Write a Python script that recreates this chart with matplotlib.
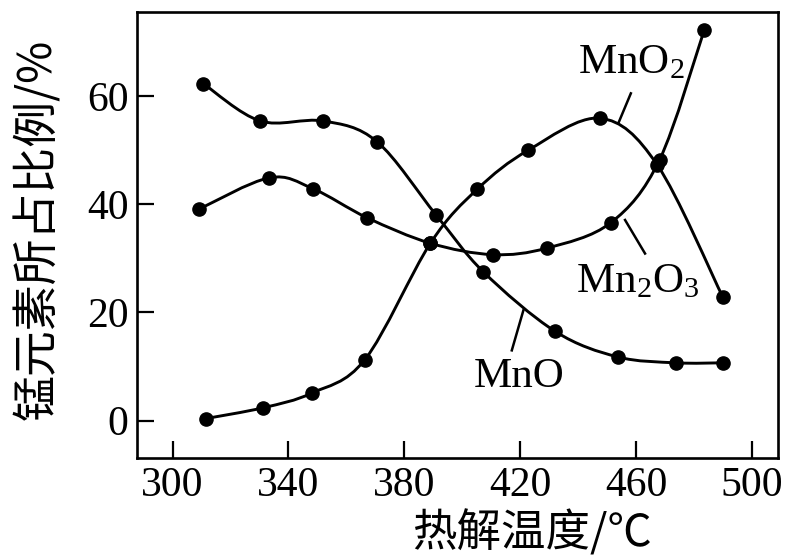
import numpy as np
import matplotlib.pyplot as plt
from matplotlib.path import Path
from matplotlib.patches import PathPatch

plt.rcParams['font.family'] = ['Liberation Serif', 'DejaVu Serif']
plt.rcParams['mathtext.fontset'] = 'custom'
plt.rcParams['mathtext.rm'] = 'Liberation Serif'
plt.rcParams['mathtext.it'] = 'Liberation Serif'

# data (temperature in C, percentage)
mno_x = [310.6, 330.2, 352.0, 370.5, 391.0, 407.3, 432.1, 453.6, 473.7, 489.9]
mno_y = [62.3, 55.4, 55.4, 51.6, 38.0, 27.5, 16.5, 11.8, 10.7, 10.7]

mn2o3_x = [309.1, 333.4, 348.4, 367.2, 389.0, 410.5, 429.2, 451.3, 468.1, 483.6]
mn2o3_y = [39.1, 44.9, 42.9, 37.5, 32.8, 30.7, 31.9, 36.6, 48.2, 72.3]

mno2_x = [311.5, 331.3, 348.0, 366.4, 389.0, 405.2, 422.8, 447.6, 467.3, 489.9]
mno2_y = [0.4, 2.4, 5.1, 11.3, 32.8, 42.8, 50.0, 55.9, 47.3, 22.9]

x_ticks = [300, 340, 380, 420, 460, 500]
y_ticks = [0, 20, 40, 60]

# label text, text centre, leader line start/end
labels = [
    (r"MnO$_2$", (458.3, 66.1), (458.2, 60.5), (453.9, 55.0)),
    (r"Mn$_2$O$_3$", (460.6, 25.6), (456.2, 37.1), (463.1, 30.9)),
    ("MnO", (419.6, 8.1), (421.1, 20.4), (417.1, 13.0)),
]


def smooth_path(x, y):
    # catmull-rom through the points, written as cubic bezier segments
    pts = np.column_stack([x, y])
    n = len(pts)
    verts = [pts[0]]
    codes = [Path.MOVETO]
    for i in range(n - 1):
        p0 = pts[i - 1] if i > 0 else pts[i]
        p1 = pts[i]
        p2 = pts[i + 1]
        p3 = pts[i + 2] if i + 2 < n else pts[i + 1]
        verts += [p1 + (p2 - p0) / 6, p2 - (p3 - p1) / 6, p2]
        codes += [Path.CURVE4] * 3
    return Path(verts, codes)


fig = plt.figure(figsize=(7.9, 5.55), dpi=100)
ax = fig.add_axes([0.1734, 0.1742, 0.8114, 0.8048])

for xs, ys in [(mno_x, mno_y), (mn2o3_x, mn2o3_y), (mno2_x, mno2_y)]:
    ax.add_patch(PathPatch(smooth_path(xs, ys), facecolor='none',
                           edgecolor='black', lw=2.1))
    ax.plot(xs, ys, 'o', color='black', ms=9.5, linestyle='none')

for text, pos, a, b in labels:
    ax.text(pos[0], pos[1], text, fontsize=31, ha='center', va='center')
    ax.plot([a[0], b[0]], [a[1], b[1]], color='black', lw=1.8)

ax.set_xlim(287.7, 509)
ax.set_ylim(-6.95, 75.6)
ax.set_xticks(x_ticks)
ax.set_yticks(y_ticks)
ax.tick_params(direction='in', length=12, width=1.6, labelsize=30, pad=6)
for sp in ax.spines.values():
    sp.set_linewidth(1.9)

fig.text(532 / 790, 1 - 533 / 555, "热解温度/℃", fontsize=32,
         family=['Noto Sans CJK SC', 'DejaVu Sans'], ha='center', va='center')
fig.text(38 / 790, 1 - 229 / 555, "锰元素所占比例/%", fontsize=33, rotation=90,
         family=['Noto Sans CJK SC', 'DejaVu Sans'], ha='center', va='center')

fig.savefig('out.png', dpi=100)
